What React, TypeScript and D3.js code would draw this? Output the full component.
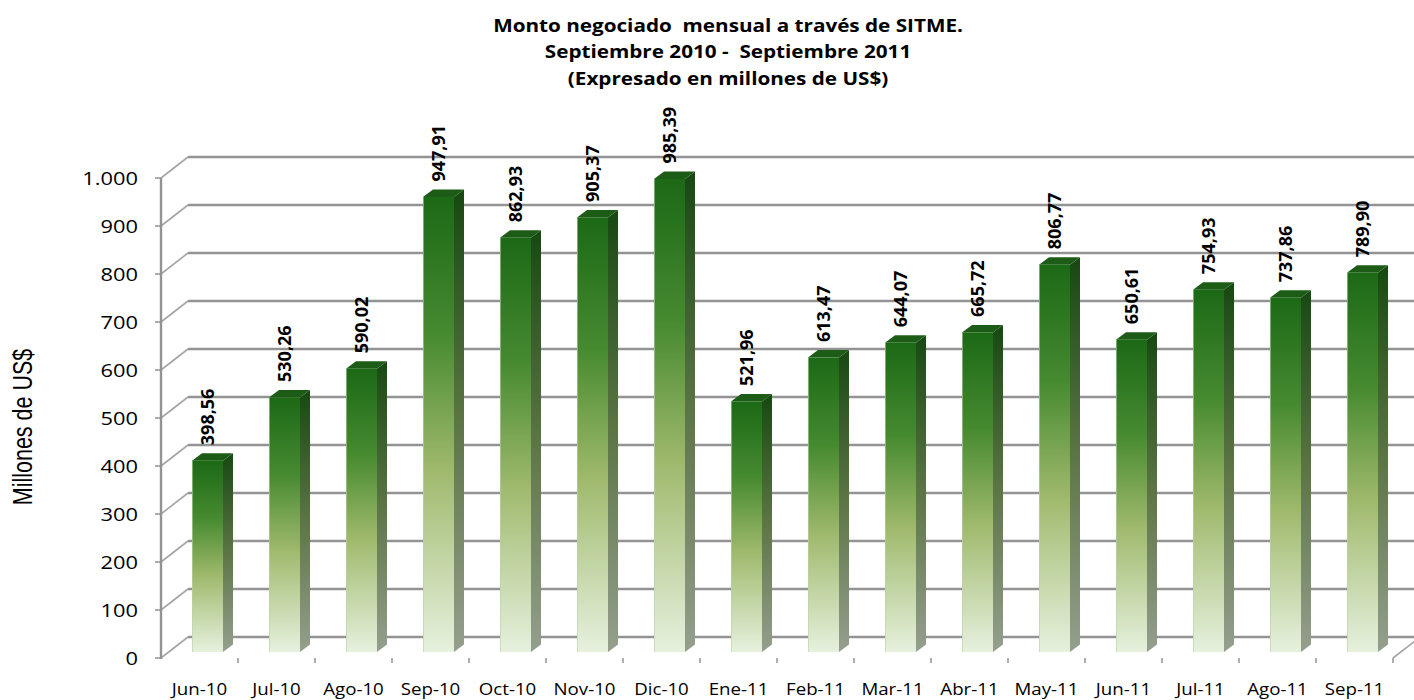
import * as d3 from 'd3'

const W = 1414
const H = 700

const months = ['Jun-10', 'Jul-10', 'Ago-10', 'Sep-10', 'Oct-10', 'Nov-10', 'Dic-10', 'Ene-11',
  'Feb-11', 'Mar-11', 'Abr-11', 'May-11', 'Jun-11', 'Jul-11', 'Ago-11', 'Sep-11']
const values = [398.56, 530.26, 590.02, 947.91, 862.93, 905.37, 985.39, 521.96,
  613.47, 644.07, 665.72, 806.77, 650.61, 754.93, 737.86, 789.9]
const yTicks = [0, 100, 200, 300, 400, 500, 600, 700, 800, 900, 1000]
const titleLines = [
  'Monto negociado  mensual a través de SITME.',
  'Septiembre 2010 -  Septiembre 2011',
  '(Expresado en millones de US$)',
]

// front plane of the 3d box, and how far back the wall sits
const LEFT = 161
const RIGHT = 1393
const BASE = 658
const TOP = 178
const WALL_DX = 27
const WALL_DY = -21
// bars sit a bit behind the front plane
const BAR_DX = 8
const BAR_DY = -6
const BAR_W = 31
const BAR_DEPTH_X = 10
const BAR_DEPTH_Y = -7.5

const es = d3.formatLocale({ decimal: ',', thousands: '.', grouping: [3], currency: ['', ''] })
const fmtTick = es.format(',.0f')
const fmtVal = es.format(',.2f')

const GRID = '#939393'

export default function App() {
  const x = d3.scaleBand<string>().domain(months).range([LEFT, RIGHT])
  const y = d3.scaleLinear().domain([0, 1000]).range([BASE, TOP])

  return (
    <svg width={W} height={H} style={{ position: 'absolute', left: 0, top: 0, background: '#fff' }}>
      <defs>
        <linearGradient id="front" x1="0" y1="0" x2="0" y2="1">
          <stop offset="0%" stopColor="#1c6916" />
          <stop offset="30%" stopColor="#468a30" />
          <stop offset="60%" stopColor="#9fb96c" />
          <stop offset="100%" stopColor="#e6f1de" />
        </linearGradient>
        <linearGradient id="side" x1="0" y1="0" x2="0" y2="1">
          <stop offset="0%" stopColor="#174812" />
          <stop offset="50%" stopColor="#5c7545" />
          <stop offset="100%" stopColor="#959f8e" />
        </linearGradient>
      </defs>

      {/* title */}
      <g fontFamily="'Open Sans', sans-serif" fontWeight={700} fontSize={18} fill="#000" textAnchor="middle">
        {titleLines.map((t, i) => (
          <text key={i} transform={`translate(728,${32 + i * 26.3}) scale(1.15,1)`} style={{ whiteSpace: 'pre' }}>{t}</text>
        ))}
      </g>

      {/* back wall grid + left wall diagonals */}
      <g stroke={GRID} strokeWidth={2.4} fill="none">
        {yTicks.map(t => (
          <g key={t}>
            <line x1={LEFT + WALL_DX} y1={y(t) + WALL_DY} x2={W} y2={y(t) + WALL_DY} />
            <line x1={LEFT} y1={y(t)} x2={LEFT + WALL_DX} y2={y(t) + WALL_DY} strokeWidth={1.6} stroke="#a5a5a5" />
            <line x1={LEFT - 6} y1={y(t)} x2={LEFT} y2={y(t)} strokeWidth={1.5} />
          </g>
        ))}
        <line x1={LEFT} y1={y(0) + 1} x2={LEFT} y2={y(1000)} />
        <line x1={RIGHT} y1={BASE} x2={RIGHT + WALL_DX} y2={BASE + WALL_DY} strokeWidth={1.6} stroke="#a5a5a5" />
        {months.slice(1).map(m => (
          <line key={m} x1={x(m)!} y1={BASE} x2={x(m)!} y2={BASE + 5} strokeWidth={1.5} />
        ))}
        <line x1={RIGHT} y1={BASE} x2={RIGHT} y2={BASE + 5} strokeWidth={1.5} />
      </g>

      {/* bars */}
      {months.map((m, i) => {
        const v = values[i]
        const xl = x(m)! + x.bandwidth() / 2 - BAR_W / 2 + BAR_DX
        const xr = xl + BAR_W
        const yt = y(v) + BAR_DY
        const yb = BASE + BAR_DY
        const dx = BAR_DEPTH_X
        const dy = BAR_DEPTH_Y
        return (
          <g key={m}>
            <polygon
              points={`${xr},${yt} ${xr + dx},${yt + dy} ${xr + dx},${yb + dy} ${xr},${yb}`}
              fill="url(#side)"
            />
            <polygon
              points={`${xl},${yt} ${xl + dx},${yt + dy} ${xr + dx},${yt + dy} ${xr},${yt}`}
              fill="#1d5c17"
            />
            <rect x={xl} y={yt} width={BAR_W} height={yb - yt} fill="url(#front)" />
            <line x1={xl + 0.5} y1={yt} x2={xl + 0.5} y2={yb} stroke="#b9d3a3" strokeOpacity={0.6} strokeWidth={1} />
            <text
              transform={`translate(${xl + BAR_W / 2 + 6.5},${yt + dy - 8}) rotate(-90)`}
              fontFamily="'Open Sans', sans-serif"
              fontWeight={700}
              fontSize={18}
              fill="#000"
            >
              {fmtVal(v)}
            </text>
          </g>
        )
      })}

      {/* y tick labels */}
      <g fontFamily="'Open Sans', sans-serif" fontSize={19} fill="#000" textAnchor="end">
        {yTicks.map(t => (
          <text key={t} transform={`translate(138,${y(t) + 7}) scale(1.15,1)`}>{fmtTick(t)}</text>
        ))}
      </g>

      {/* category labels */}
      <g fontFamily="'Open Sans', sans-serif" fontSize={17} fill="#000" textAnchor="middle">
        {months.map(m => (
          <text key={m} transform={`translate(${x(m)! + x.bandwidth() / 2},695) scale(1.1,1)`}>{m}</text>
        ))}
      </g>

      {/* y axis title */}
      <text
        transform="translate(32,427) scale(1.25,1) rotate(-90)"
        fontFamily="'Liberation Sans', Arial, sans-serif"
        fontSize={21.5}
        textAnchor="middle"
        fill="#000"
      >
        Millones de US$
      </text>
    </svg>
  )
}
